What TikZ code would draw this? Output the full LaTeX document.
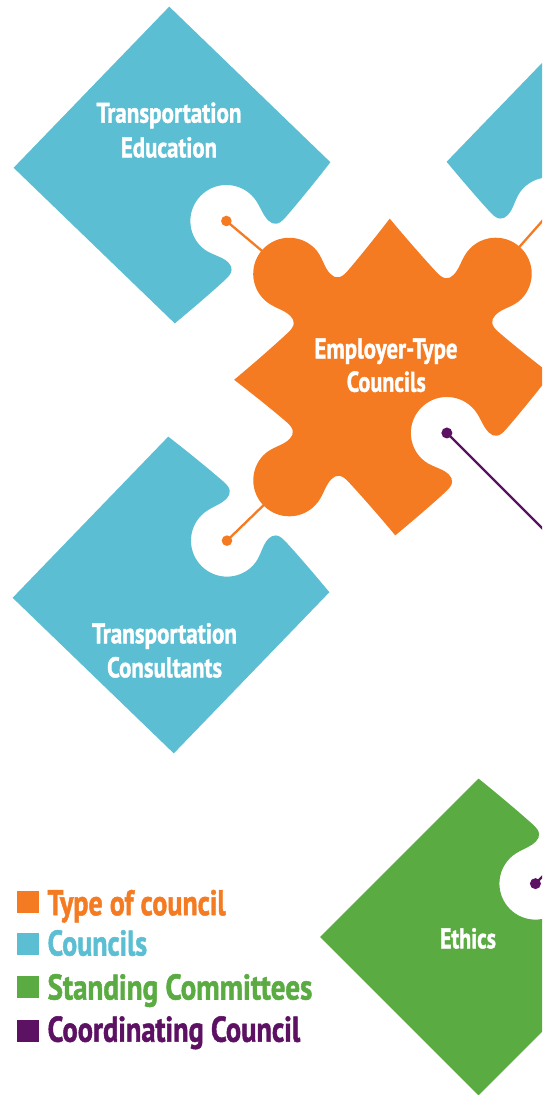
\documentclass[tikz,border=0pt]{standalone}
\usepackage{fontspec}
\setmainfont{PT Sans}[BoldFeatures={FakeBold=1.5}]
\usepackage{graphicx}
\usetikzlibrary{calc}
\definecolor{cblue}{HTML}{5BBED3}
\definecolor{corange}{HTML}{F47B22}
\definecolor{cgreen}{HTML}{5AAB41}
\definecolor{cpurple}{HTML}{5C1163}
% one jigsaw side in the local frame (bottom side), #1 = +1 tab, -1 blank, 0 flat
\newcommand\pzside[1]{%
 .. controls (85,{112-3*(#1)}) and (55,{112-5.3*(#1)}) .. (41,{112-6*(#1)})
 .. controls (31,{112-6.7*(#1)}) and (27,{112-3*(#1)}) .. (27,{112+4*(#1)})
 .. controls (27,{112+14*(#1)}) and (33.5,{112+22*(#1)}) .. (33.5,{112+34*(#1)})
 .. controls (33.5,{112+53.9*(#1)}) and (17.4,{112+70*(#1)}) .. (-2.5,{112+70*(#1)})
 .. controls (-22.4,{112+70*(#1)}) and (-38.5,{112+53.9*(#1)}) .. (-38.5,{112+34*(#1)})
 .. controls (-38.5,{112+22*(#1)}) and (-31,{112+14*(#1)}) .. (-31,{112+4*(#1)})
 .. controls (-31,{112-3*(#1)}) and (-35,{112-6.7*(#1)}) .. (-45,{112-6*(#1)})
 .. controls (-59,{112-5.3*(#1)}) and (-85,{112-3*(#1)}) .. (-112,112)}
% sides: lower-right, lower-left, upper-left, upper-right
\newcommand\pzpiece[4]{(112,112) \pzside{#1} {[rotate=-90] \pzside{#2}} {[rotate=180] \pzside{#3}} {[rotate=90] \pzside{#4}} -- cycle}
\newcommand\wt[2]{\resizebox{#1pt}{\height}{#2}}
\tikzset{
 piecetxt/.style={text=white, font=\bfseries\fontsize{28.5}{30}\selectfont, inner sep=0pt, anchor=base},
 legtxt/.style={font=\bfseries\fontsize{35.7}{38}\selectfont, inner sep=0pt, anchor=base west},
 legsq/.style={minimum size=22pt, inner sep=0pt, anchor=south west},
 conn/.style={line width=2.3pt},
}
\begin{document}
\begin{tikzpicture}[x=1pt,y=-1pt]
\useasboundingbox (0,0) rectangle (542,1095);
\clip (0,0) rectangle (542,1095);
% orange piece reference points
\begin{scope}[shift={(392.5,377)}, rotate=46]
 \coordinate (oUL) at (2.5,-146);
 \coordinate (oLL) at (-146,-2.5);
 \coordinate (oUR) at (146,2.5);
 \coordinate (sEmp) at (-2.5,78);
\end{scope}
% Transportation Education
\begin{scope}[shift={(172,165)}, rotate=46]
 \fill[cblue] \pzpiece{-1}{0}{0}{0};
 \coordinate (sTL) at (-2.5,78);
\end{scope}
% upper right council
\begin{scope}[shift={(605,159)}, rotate=46]
 \fill[cblue] \pzpiece{0}{-1}{0}{0};
 \coordinate (sTR) at (-78,-2.5);
\end{scope}
% Transportation Consultants
\begin{scope}[shift={(171,595)}, rotate=46]
 \fill[cblue] \pzpiece{0}{0}{0}{-1};
 \coordinate (sBL) at (78,2.5);
\end{scope}
% Ethics
\begin{scope}[shift={(478.5,937)}, rotate=45]
 \fill[cgreen] \pzpiece{0}{0}{0}{-1};
 \coordinate (sEth) at (78,2.5);
\end{scope}
% orange connectors (under the orange piece)
\draw[conn, corange] (sTL) -- (oUL);
\draw[conn, corange] (sBL) -- (oLL);
\draw[conn, corange] (sTR) -- (oUR);
% Employer-Type Councils
\begin{scope}[shift={(392.5,377)}, rotate=46]
 \fill[corange] \pzpiece{-1}{1}{1}{1};
\end{scope}
% purple connectors
\coordinate (pEmp) at ($(sEmp)+(170,170)$);
\coordinate (pEth) at ($(sEth)+(90,-90)$);
\draw[conn, cpurple] (sEmp) -- (pEmp);
\draw[conn, cpurple] (sEth) -- (pEth);
% dots
\fill[corange] (sTL) circle (5.3pt);
\fill[corange] (sBL) circle (5.3pt);
\fill[corange] (sTR) circle (5.3pt);
\fill[cpurple] (sEmp) circle (5.5pt);
\fill[cpurple] (sEth) circle (5.5pt);
% texts
\node[piecetxt] (te1) at (169,122.7) {\wt{145}{Transportation}};
\node[piecetxt] (te2) at (169,157.3) {\wt{96}{Education}};
\node[piecetxt] (et1) at (386,358.3) {\wt{143}{Employer-Type}};
\node[piecetxt] (et2) at (386.3,391.7) {\wt{79}{Councils}};
\node[piecetxt] (tc1) at (164.5,643.3) {\wt{145}{Transportation}};
\node[piecetxt] (tc2) at (164.6,677.3) {\wt{115}{Consultants}};
\node[piecetxt] (eth) at (468,948.3) {\wt{56}{Ethics}};
% legend
\node[legsq, fill=corange] (sq1) at (16.6,913.3) {};
\node[legsq, fill=cblue] (sq2) at (16.6,955.5) {};
\node[legsq, fill=cgreen] (sq3) at (16.6,998.3) {};
\node[legsq, fill=cpurple] (sq4) at (16.6,1041.7) {};
\node[legtxt, text=corange] (lg1) at (47.4,915.2) {\wt{178}{Type of council}};
\node[legtxt, text=cblue] (lg2) at (47.4,955.5) {\wt{99.5}{Councils}};
\node[legtxt, text=cgreen] (lg3) at (47.4,999.5) {\wt{264.7}{Standing Committees}};
\node[legtxt, text=cpurple] (lg4) at (47.4,1041.7) {\wt{252.6}{Coordinating Council}};
\end{tikzpicture}
\end{document}
